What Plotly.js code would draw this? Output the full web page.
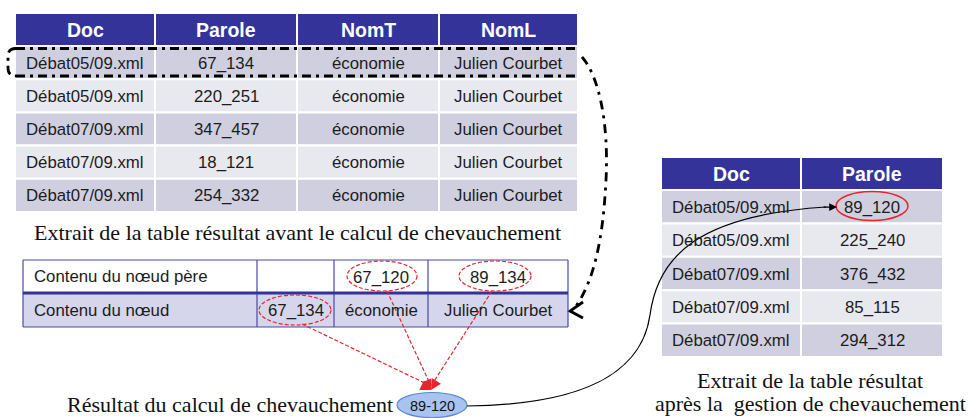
<!DOCTYPE html>
<html><head><meta charset="utf-8">
<script src="https://cdn.plot.ly/plotly-3.0.1.min.js"></script>
<style>html,body{margin:0;padding:0;background:#fff}#chart{width:968px;height:418px}</style>
</head><body><div id="chart"></div>
<script>
// ---------- DATA ----------
const tableAHeader = ["Doc", "Parole", "NomT", "NomL"];
const tableADoc = ["Débat05/09.xml", "Débat05/09.xml", "Débat07/09.xml", "Débat07/09.xml", "Débat07/09.xml"];
const tableAParole = ["67_134", "220_251", "347_457", "18_121", "254_332"];
const tableANomT = ["économie", "économie", "économie", "économie", "économie"];
const tableANomL = ["Julien Courbet", "Julien Courbet", "Julien Courbet", "Julien Courbet", "Julien Courbet"];
const captionA = "Extrait de la table résultat avant le calcul de chevauchement";

const nodeRowLabels = ["Contenu du nœud père", "Contenu du nœud"];
const nodeParentValues = ["", "67_120", "89_134"];
const nodeChildValues = ["67_134", "économie", "Julien Courbet"];
const resultLabel = "Résultat du calcul de chevauchement";
const resultValue = "89-120";

const tableBHeader = ["Doc", "Parole"];
const tableBDoc = ["Débat05/09.xml", "Débat05/09.xml", "Débat07/09.xml", "Débat07/09.xml", "Débat07/09.xml"];
const tableBParole = ["89_120", "225_240", "376_432", "85_115", "294_312"];
const captionB = ["Extrait de la table résultat", "après la&nbsp; gestion de chevauchement"];

// ---------- STYLE / LAYOUT ----------
const SANS = "Liberation Sans, Arial, sans-serif";
const SERIF = "Liberation Serif, Times New Roman, serif";
const HEADER_FILL = "#333399";
const ROW_FILLS = ["#cfcfe0", "#e8e8ef"];
const TEXT = "#1c1c1c";
const CELL_SIZE = 16.8, HEAD_SIZE = 19.5, CAP_SIZE = 22;
const shapes = [], annotations = [];

function rect(x0, y0, x1, y1, fill, lc, lw, layer) {
  shapes.push({type: "rect", xref: "x", yref: "y", x0, y0, x1, y1, fillcolor: fill,
    line: {color: lc, width: lw}, layer: layer || "below"});
}
function line(x0, y0, x1, y1, color, width, dash) {
  shapes.push({type: "line", xref: "x", yref: "y", x0, y0, x1, y1,
    line: {color, width, dash: dash || "solid"}, layer: "above"});
}
function ellipse(cx, cy, rx, ry, fill, color, width, dash) {
  shapes.push({type: "circle", xref: "x", yref: "y", x0: cx - rx, x1: cx + rx, y0: cy - ry, y1: cy + ry,
    fillcolor: fill, line: {color, width, dash: dash || "solid"}, layer: "above"});
}
function path(d, color, width, dash, fill) {
  shapes.push({type: "path", xref: "x", yref: "y", path: d, fillcolor: fill || "rgba(0,0,0,0)",
    line: {color, width, dash: dash || "solid"}, layer: "above"});
}
function text(x, y, t, size, color, family, opts) {
  annotations.push(Object.assign({x, y, xref: "x", yref: "y", text: t, showarrow: false,
    font: {family: family || SANS, size, color}, xanchor: "center", yanchor: "middle", borderpad: 0}, opts || {}));
}

function drawGridTable(colEdges, top, headH, rowH, header, columns) {
  const hb = top + headH;
  header.forEach((h, c) => {
    rect(colEdges[c], top, colEdges[c + 1], hb, HEADER_FILL, "#ffffff", 2);
    text((colEdges[c] + colEdges[c + 1]) / 2, (top + hb) / 2, "<b>" + h + "</b>", HEAD_SIZE, "#ffffff");
  });
  columns[0].forEach((_, r) => {
    const y0 = hb + r * rowH, y1 = y0 + rowH;
    columns.forEach((col, c) => {
      rect(colEdges[c], y0, colEdges[c + 1], y1, ROW_FILLS[r % 2], "#ffffff", 2);
      text((colEdges[c] + colEdges[c + 1]) / 2, (y0 + y1) / 2 + 0.5, col[r], CELL_SIZE, TEXT);
    });
  });
}

// Table A
const aEdges = [15, 155, 297, 439, 578];
drawGridTable(aEdges, 13, 33, 33.2, tableAHeader, [tableADoc, tableAParole, tableANomT, tableANomL]);
text(297, 232, captionA, CAP_SIZE, "#111", SERIF);

// dashed selection around first row
path("M 16 48.5 L 578 48.5 M 16 76 L 578 76 M 16 48.5 Q 8 48.5 8 56 L 8 68 Q 8 76 16 76",
     "#000", 2.8, "9px,5px,3px,5px");
// dash-dot connector down to node table
path("M 582 57 C 598 75, 609 120, 606 180 C 603 240, 594 282, 574 309",
     "#000", 2.8, "9px,6px,3px,6px");
path("M 583 302 L 570 311 L 583 318", "#000", 2.8);

// Node table
const nEdges = [23, 257, 334, 428, 568];
const nTop = 260, nMid = 293, nBot = 327;
rect(nEdges[0], nTop, nEdges[4], nMid, "#ffffff", "rgba(0,0,0,0)", 0);
rect(nEdges[0], nMid, nEdges[4], nBot, "#d5d5eb", "rgba(0,0,0,0)", 0);
line(nEdges[0], nTop, nEdges[4], nTop, "#4a4aa6", 1.2);
line(nEdges[0], nBot, nEdges[4], nBot, "#4a4aa6", 1.2);
nEdges.forEach(x => line(x, nTop, x, nBot, "#4a4aa6", 1.2));
line(nEdges[0], nMid, nEdges[4], nMid, "#333399", 3);
text(33, (nTop + nMid) / 2, nodeRowLabels[0], CELL_SIZE, TEXT, SANS, {xanchor: "left"});
text(33, (nMid + nBot) / 2, nodeRowLabels[1], CELL_SIZE, TEXT, SANS, {xanchor: "left"});
nodeParentValues.forEach((v, i) => {
  if (v) text((nEdges[i + 1] + nEdges[i + 2]) / 2, (nTop + nMid) / 2 + 0.5, v, CELL_SIZE, TEXT);
});
nodeChildValues.forEach((v, i) => {
  text((nEdges[i + 1] + nEdges[i + 2]) / 2, (nMid + nBot) / 2 + 0.5, v, CELL_SIZE, TEXT);
});
// red dashed ellipses
const RED = "#e8242c";
ellipse(382, 276, 35, 15, "rgba(0,0,0,0)", RED, 1.2, "4px,2px");
ellipse(495, 276, 36, 15, "rgba(0,0,0,0)", RED, 1.2, "4px,2px");
ellipse(295, 310, 36, 15, "rgba(0,0,0,0)", RED, 1.2, "4px,2px");
// red dashed arrows to result
const tip = [431, 390];
const tails = [[302, 324], [387, 291], [492, 291]];
tails.forEach(t => {
  line(t[0], t[1], tip[0], tip[1] - 4, RED, 1.2, "4px,2px");
  const dx = tip[0] - t[0], dy = tip[1] - t[1], L = Math.hypot(dx, dy);
  annotations.push({x: tip[0], y: tip[1], xref: "x", yref: "y", axref: "x", ayref: "y",
    ax: tip[0] - dx / L * 8, ay: tip[1] - dy / L * 8, text: "", showarrow: true,
    arrowhead: 2, arrowsize: 1.4, arrowwidth: 1.5, arrowcolor: RED, standoff: 0});
});
// result ellipse
ellipse(432, 405, 35, 12.5, "#a7c3ee", "#5a88d0", 1.2);
text(432, 405.5, resultValue, 14.5, "#111");
text(394, 404, resultLabel, CAP_SIZE, "#111", SERIF, {xanchor: "right"});

// Table B
const bEdges = [661, 801, 943];
drawGridTable(bEdges, 157, 33, 33.4, tableBHeader, [tableBDoc, tableBParole]);
ellipse(872, 206, 36, 14.5, "rgba(0,0,0,0)", RED, 1.5);
text(810, 380, captionB[0], CAP_SIZE, "#111", SERIF);
text(810, 403, captionB[1], CAP_SIZE, "#111", SERIF);

// black curve from result to table B
path("M 467 406 C 560 405, 640 385, 650 315 C 658 255, 700 215, 826 207", "#000", 1.2);
annotations.push({x: 837, y: 207, xref: "x", yref: "y", axref: "x", ayref: "y", ax: 822, ay: 207.2,
  text: "", showarrow: true, arrowhead: 2, arrowsize: 1.3, arrowwidth: 1.2, arrowcolor: "#000", standoff: 0});

const layout = {
  width: 968, height: 418, margin: {l: 0, r: 0, t: 0, b: 0, pad: 0},
  paper_bgcolor: "#ffffff", plot_bgcolor: "#ffffff", showlegend: false,
  xaxis: {range: [0, 968], visible: false, fixedrange: true},
  yaxis: {range: [418, 0], visible: false, fixedrange: true},
  shapes, annotations
};
Plotly.newPlot("chart", [], layout, {staticPlot: true, displayModeBar: false});
</script></body></html>
